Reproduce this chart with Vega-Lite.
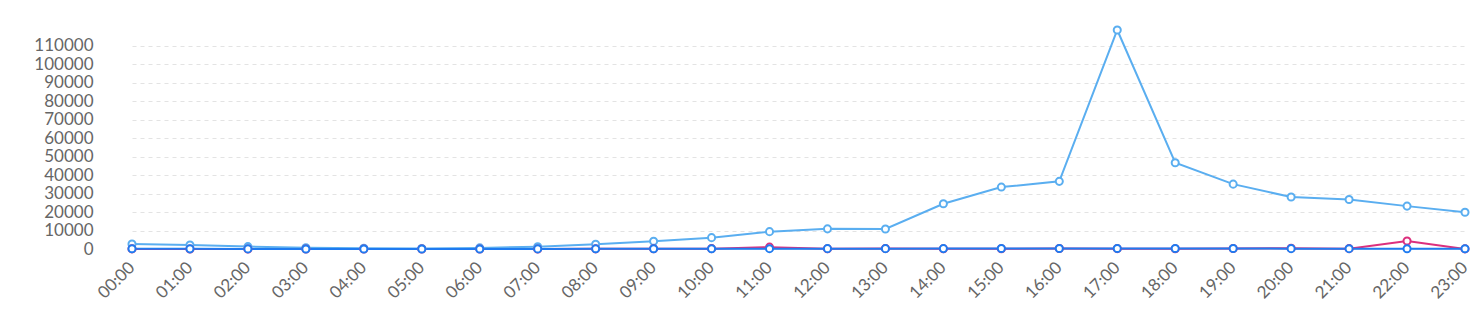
{
  "$schema": "https://vega.github.io/schema/vega-lite/v6.json",
  "width": 1369,
  "height": 219,
  "autosize": {"type": "none"},
  "padding": {"left": 104, "top": 30, "right": 0, "bottom": 84},
  "background": "white",
  "config": {
    "view": {"stroke": null},
    "font": "Lato",
    "axis": {"labelFont": "Lato", "labelColor": "#666666", "labelFontSize": 17}
  },
  "data": {
    "values": [
      {"hour": "00:00", "series": "A", "value": 2700},
      {"hour": "01:00", "series": "A", "value": 2200},
      {"hour": "02:00", "series": "A", "value": 1300},
      {"hour": "03:00", "series": "A", "value": 700},
      {"hour": "04:00", "series": "A", "value": 400},
      {"hour": "05:00", "series": "A", "value": 300},
      {"hour": "06:00", "series": "A", "value": 600},
      {"hour": "07:00", "series": "A", "value": 1250},
      {"hour": "08:00", "series": "A", "value": 2550},
      {"hour": "09:00", "series": "A", "value": 4200},
      {"hour": "10:00", "series": "A", "value": 6150},
      {"hour": "11:00", "series": "A", "value": 9400},
      {"hour": "12:00", "series": "A", "value": 10900},
      {"hour": "13:00", "series": "A", "value": 10800},
      {"hour": "14:00", "series": "A", "value": 24450},
      {"hour": "15:00", "series": "A", "value": 33500},
      {"hour": "16:00", "series": "A", "value": 36600},
      {"hour": "17:00", "series": "A", "value": 118500},
      {"hour": "18:00", "series": "A", "value": 46700},
      {"hour": "19:00", "series": "A", "value": 35100},
      {"hour": "20:00", "series": "A", "value": 28100},
      {"hour": "21:00", "series": "A", "value": 26800},
      {"hour": "22:00", "series": "A", "value": 23200},
      {"hour": "23:00", "series": "A", "value": 19900},
      {"hour": "00:00", "series": "B", "value": 50},
      {"hour": "01:00", "series": "B", "value": 40},
      {"hour": "02:00", "series": "B", "value": 30},
      {"hour": "03:00", "series": "B", "value": 20},
      {"hour": "04:00", "series": "B", "value": 10},
      {"hour": "05:00", "series": "B", "value": 10},
      {"hour": "06:00", "series": "B", "value": 20},
      {"hour": "07:00", "series": "B", "value": 40},
      {"hour": "08:00", "series": "B", "value": 80},
      {"hour": "09:00", "series": "B", "value": 120},
      {"hour": "10:00", "series": "B", "value": 200},
      {"hour": "11:00", "series": "B", "value": 1000},
      {"hour": "12:00", "series": "B", "value": 150},
      {"hour": "13:00", "series": "B", "value": 300},
      {"hour": "14:00", "series": "B", "value": 150},
      {"hour": "15:00", "series": "B", "value": 150},
      {"hour": "16:00", "series": "B", "value": 250},
      {"hour": "17:00", "series": "B", "value": 200},
      {"hour": "18:00", "series": "B", "value": 100},
      {"hour": "19:00", "series": "B", "value": 250},
      {"hour": "20:00", "series": "B", "value": 400},
      {"hour": "21:00", "series": "B", "value": 200},
      {"hour": "22:00", "series": "B", "value": 4350},
      {"hour": "23:00", "series": "B", "value": 50},
      {"hour": "00:00", "series": "C", "value": 100},
      {"hour": "01:00", "series": "C", "value": 80},
      {"hour": "02:00", "series": "C", "value": 60},
      {"hour": "03:00", "series": "C", "value": 40},
      {"hour": "04:00", "series": "C", "value": 30},
      {"hour": "05:00", "series": "C", "value": 30},
      {"hour": "06:00", "series": "C", "value": 40},
      {"hour": "07:00", "series": "C", "value": 60},
      {"hour": "08:00", "series": "C", "value": 90},
      {"hour": "09:00", "series": "C", "value": 120},
      {"hour": "10:00", "series": "C", "value": 150},
      {"hour": "11:00", "series": "C", "value": 180},
      {"hour": "12:00", "series": "C", "value": 200},
      {"hour": "13:00", "series": "C", "value": 200},
      {"hour": "14:00", "series": "C", "value": 220},
      {"hour": "15:00", "series": "C", "value": 240},
      {"hour": "16:00", "series": "C", "value": 260},
      {"hour": "17:00", "series": "C", "value": 300},
      {"hour": "18:00", "series": "C", "value": 250},
      {"hour": "19:00", "series": "C", "value": 230},
      {"hour": "20:00", "series": "C", "value": 200},
      {"hour": "21:00", "series": "C", "value": 180},
      {"hour": "22:00", "series": "C", "value": 150},
      {"hour": "23:00", "series": "C", "value": 120}
    ]
  },
  "encoding": {
    "x": {
      "field": "hour",
      "type": "ordinal",
      "scale": {"type": "point", "range": [28, 1361], "padding": 0},
      "axis": {
        "title": null,
        "labelAngle": -45,
        "ticks": false,
        "grid": false,
        "domain": true,
        "domainColor": "#dddddd",
        "labelPadding": 10,
        "labelOffset": -6
      }
    },
    "y": {
      "field": "value",
      "type": "quantitative",
      "scale": {"domain": [0, 118500], "nice": false, "zero": true},
      "axis": {
        "title": null,
        "values": [0, 10000, 20000, 30000, 40000, 50000, 60000, 70000, 80000, 90000, 100000, 110000],
        "format": "d",
        "ticks": false,
        "domain": false,
        "grid": true,
        "gridColor": "#e3e3e3",
        "gridDash": [4, 4],
        "labelPadding": 11
      }
    },
    "color": {
      "field": "series",
      "type": "nominal",
      "scale": {"domain": ["A", "B", "C"], "range": ["#5aaef0", "#dc2f7d", "#1f7bf0"]},
      "legend": null
    },
    "order": {"field": "series"}
  },
  "layer": [
    {"mark": {"type": "line", "strokeWidth": 2}},
    {"mark": {"type": "point", "shape": "circle", "filled": false, "fill": "white", "fillOpacity": 1, "opacity": 1, "size": 50, "strokeWidth": 2}}
  ]
}
